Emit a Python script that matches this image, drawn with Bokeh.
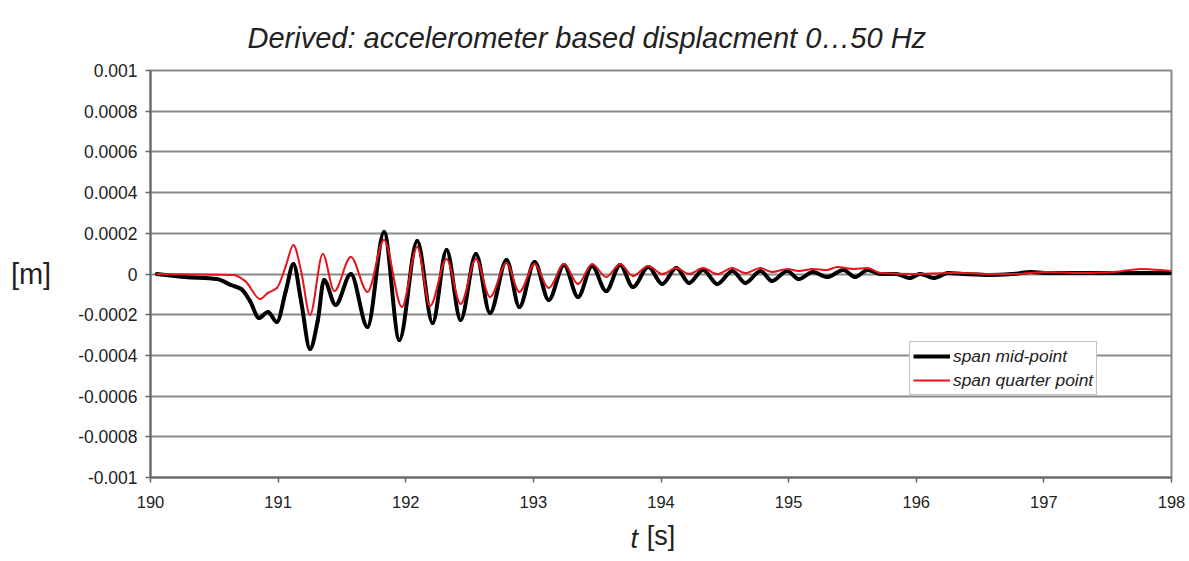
from bokeh.plotting import figure
from bokeh.models import Range1d, FixedTicker, Legend, LegendItem, ColumnDataSource, Title
from bokeh.embed import file_html
from bokeh.resources import INLINE

# ---- data ----
mid_t = [190.05, 190.27, 190.52, 190.63, 190.71, 190.78, 190.85, 190.92, 190.99, 191.06,
         191.12, 191.18, 191.25, 191.31, 191.36, 191.45, 191.57, 191.70, 191.83, 191.95,
         192.09, 192.21, 192.32, 192.43, 192.55, 192.66, 192.79, 192.89, 193.01, 193.12,
         193.24, 193.35, 193.46, 193.57, 193.68, 193.78, 193.90, 194.01, 194.12, 194.22,
         194.33, 194.44, 194.56, 194.66, 194.78, 194.87, 194.99, 195.08, 195.19, 195.30,
         195.43, 195.52, 195.62, 195.72, 195.84, 195.95, 196.03, 196.14, 196.25, 196.37,
         196.58, 196.76, 196.90, 197.03, 197.29, 197.55, 197.76, 197.99]
mid_v = [0.0, -0.15, -0.25, -0.54, -0.74, -1.33, -2.16, -1.87, -2.36, -0.84,
         0.49, -1.33, -3.69, -2.31, -0.29, -1.52, 0.0, -2.60, 2.06, -3.24,
         1.62, -2.41, 1.18, -2.26, 0.98, -1.92, 0.69, -1.62, 0.59, -1.28,
         0.44, -1.13, 0.39, -0.84, 0.44, -0.64, 0.34, -0.49, 0.29, -0.44,
         0.20, -0.49, 0.15, -0.44, 0.15, -0.34, 0.15, -0.25, 0.10, -0.15,
         0.20, -0.15, 0.20, 0.0, 0.0, -0.20, 0.0, -0.20, 0.05, 0.0,
         -0.05, 0.0, 0.10, 0.05, 0.05, 0.05, 0.05, 0.05]

quarter_t = [190.05, 190.65, 190.74, 190.86, 190.92, 190.99, 191.06, 191.12, 191.18, 191.25,
             191.35, 191.44, 191.57, 191.70, 191.83, 191.97, 192.09, 192.19, 192.32, 192.43,
             192.55, 192.66, 192.79, 192.89, 193.01, 193.12, 193.24, 193.35, 193.46, 193.57,
             193.68, 193.78, 193.90, 194.01, 194.12, 194.22, 194.33, 194.44, 194.56, 194.66,
             194.78, 194.87, 194.99, 195.08, 195.19, 195.30, 195.38, 195.51, 195.62, 195.72,
             195.98, 196.25, 196.37, 196.58, 196.76, 197.03, 197.29, 197.55, 197.76, 197.99]
quarter_v = [0.0, -0.05, -0.34, -1.23, -0.93, -0.69, 0.39, 1.43, 0.15, -2.01,
             0.98, -0.84, 0.84, -0.88, 1.67, -1.62, 1.33, -1.57, 0.74, -1.47,
             0.74, -1.13, 0.54, -0.88, 0.49, -0.69, 0.49, -0.49, 0.49, -0.15,
             0.49, -0.10, 0.39, 0.0, 0.29, 0.0, 0.29, 0.0, 0.29, 0.05,
             0.29, 0.10, 0.25, 0.15, 0.25, 0.20, 0.34, 0.25, 0.29, 0.05,
             0.0, 0.05, 0.05, 0.0, 0.0, 0.10, 0.05, 0.10, 0.25, 0.15]
v_scale = 1e-4  # values above are in units of 1e-4 m

x_ticks = [190, 191, 192, 193, 194, 195, 196, 197, 198]
y_ticks = [-0.001, -0.0008, -0.0006, -0.0004, -0.0002, 0.0, 0.0002, 0.0004, 0.0006, 0.0008, 0.001]
y_tick_labels = ["-0.001", "-0.0008", "-0.0006", "-0.0004", "-0.0002", "0",
                 "0.0002", "0.0004", "0.0006", "0.0008", "0.001"]

series_names = ["span mid-point", "span quarter point"]
title_text = "Derived: accelerometer based displacment 0\u202650 Hz"
x_label_var, x_label_unit = "t", "[s]"
y_label = "[m]"

FONT = "Liberation Sans"
GRID = "#8a8a8a"
TXT = "#222222"
RED = "#e8141c"


def smooth_segments(ts, vs):
    """Bezier segments through the read points (monotone cubic, flat at extrema)."""
    n = len(ts)
    d = [(vs[i + 1] - vs[i]) / (ts[i + 1] - ts[i]) for i in range(n - 1)]
    m = [0.0] * n
    m[0], m[-1] = d[0], d[-1]
    for i in range(1, n - 1):
        if d[i - 1] * d[i] <= 0:
            m[i] = 0.0
        else:
            m[i] = 2.0 / (1.0 / d[i - 1] + 1.0 / d[i])
    seg = dict(x0=[], y0=[], x1=[], y1=[], cx0=[], cy0=[], cx1=[], cy1=[])
    for i in range(n - 1):
        h = ts[i + 1] - ts[i]
        seg["x0"].append(ts[i]); seg["y0"].append(vs[i])
        seg["x1"].append(ts[i + 1]); seg["y1"].append(vs[i + 1])
        seg["cx0"].append(ts[i] + h / 3); seg["cy0"].append(vs[i] + m[i] * h / 3)
        seg["cx1"].append(ts[i + 1] - h / 3); seg["cy1"].append(vs[i + 1] - m[i + 1] * h / 3)
    return ColumnDataSource(seg)


p = figure(width=1189, height=561, output_backend="svg", toolbar_location=None,
           x_range=Range1d(190, 198), y_range=Range1d(-0.001, 0.001),
           min_border_left=150, min_border_right=18, min_border_top=70, min_border_bottom=84)
p.background_fill_color = "white"
p.border_fill_color = "white"
p.outline_line_color = GRID
p.outline_line_width = 2

src_mid = smooth_segments(mid_t, [v * v_scale for v in mid_v])
src_q = smooth_segments(quarter_t, [v * v_scale for v in quarter_v])
p.bezier(x0="x0", y0="y0", x1="x1", y1="y1", cx0="cx0", cy0="cy0", cx1="cx1", cy1="cy1",
         source=src_mid, line_color="black", line_width=4, line_cap="round")
p.bezier(x0="x0", y0="y0", x1="x1", y1="y1", cx0="cx0", cy0="cy0", cx1="cx1", cy1="cy1",
         source=src_q, line_color=RED, line_width=2, line_cap="round")
# legend proxies (one undrawn point each, so the legend shows their line)
r_mid = p.line([mid_t[0]], [float("nan")], line_color="black", line_width=4)
r_q = p.line([quarter_t[0]], [float("nan")], line_color=RED, line_width=2)

# axes
p.xaxis.ticker = FixedTicker(ticks=x_ticks)
p.yaxis.ticker = FixedTicker(ticks=y_ticks)
p.yaxis.major_label_overrides = {t: l for t, l in zip(y_ticks, y_tick_labels)}
for ax in (p.xaxis[0], p.yaxis[0]):
    ax.axis_line_color = "#666666"
    ax.axis_line_width = 2
    ax.major_tick_line_color = "#666666"
    ax.major_tick_line_width = 1.5
    ax.major_tick_out = 5
    ax.major_tick_in = 0
    ax.minor_tick_line_color = None
    ax.major_label_text_font = FONT
    ax.major_label_text_font_size = "16.5px"
    ax.major_label_text_color = TXT
    ax.axis_label_text_font = FONT
    ax.axis_label_text_font_style = "normal"
    ax.axis_label_text_color = TXT
    ax.axis_label_text_font_size = "27px"
p.yaxis.major_label_text_font_size = "17.5px"
p.yaxis.major_label_standoff = 8
p.xaxis.major_label_standoff = 13
p.yaxis.axis_label = y_label
p.yaxis.axis_label_orientation = "horizontal"
p.yaxis.axis_label_standoff = 24
p.yaxis.axis_label_text_font_size = "29px"
p.xaxis.axis_label = x_label_unit
p.xaxis.axis_label_standoff = 10

p.xgrid.grid_line_color = None
p.ygrid.grid_line_color = GRID
p.ygrid.grid_line_width = 2

# italic "t" next to the x-axis unit label
p.add_layout(Title(text=x_label_var, align="left", offset=480, text_font=FONT,
                   text_font_style="italic", text_font_size="27px", text_color=TXT,
                   vertical_align="top", standoff=-60), "below")

# legend (screen coords relative to the frame's bottom-left)
legend = Legend(items=[LegendItem(label=series_names[0], renderers=[r_mid]),
                       LegendItem(label=series_names[1], renderers=[r_q])],
                location=(759, 82), orientation="vertical")
legend.label_text_font = FONT
legend.label_text_font_style = "italic"
legend.label_text_font_size = "17.4px"
legend.label_text_color = TXT
legend.border_line_color = GRID
legend.border_line_width = 1.5
legend.background_fill_color = "white"
legend.background_fill_alpha = 1
legend.glyph_width = 37
legend.glyph_height = 22
legend.label_height = 22
legend.label_standoff = 3
legend.spacing = 2
legend.padding = 3
legend.margin = 0
p.add_layout(legend, "center")

# title, lifted off the frame by its standoff (panel stays within the 70px top border)
p.add_layout(Title(text=title_text, align="left", offset=97, text_font=FONT,
                   text_font_style="italic", text_font_size="29px", text_color=TXT,
                   vertical_align="bottom", standoff=34), "above")

open("out.html", "w").write(file_html(p, INLINE))
